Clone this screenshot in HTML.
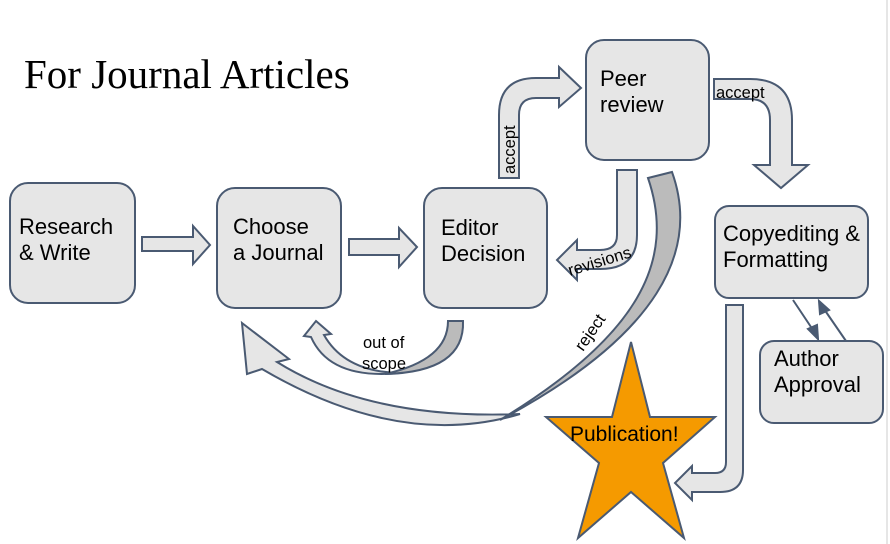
<!DOCTYPE html>
<html><head><style>html,body{margin:0;padding:0;background:#fff}svg{display:block}</style></head>
<body>
<svg width="890" height="544" viewBox="0 0 890 544" xmlns="http://www.w3.org/2000/svg" font-family="Liberation Sans, sans-serif">
<line x1="887" y1="0" x2="887" y2="544" stroke="#ccc" stroke-width="1"/>
<text x="24" y="88" font-family="Liberation Serif, serif" font-size="41" fill="#000">For Journal Articles</text>
<g fill="#e6e6e6" stroke="#4a5a72" stroke-width="2">
<rect x="10" y="183" width="125" height="120" rx="18"/>
<rect x="217" y="188" width="124" height="120" rx="18"/>
<rect x="424" y="188" width="123" height="120" rx="18"/>
<rect x="586" y="40" width="123" height="120" rx="18"/>
<rect x="715" y="206" width="153" height="92" rx="14"/>
<rect x="760" y="341" width="123" height="82" rx="14"/>
<path d="M142,237 L193,237 L193,226 L210,245 L193,264 L193,251 L142,251 Z"/>
<path d="M349,239 L399,239 L399,228 L417,247 L399,267 L399,255 L349,255 Z"/>
<path d="M499,178 L499,115 Q499,78 536,78 L559,78 L559,67 L581,88 L559,107 L559,98 L536,98 Q519,98 519,115 L519,178 Z"/>
<path d="M714,79 L750,79 Q792,79 792,120 L792,165 L808,165 L781,188 L754,165 L770,165 L770,120 Q770,99 750,99 L714,99 Z"/>
<path d="M617,170 L637,170 L637,235 Q637,269 600,269 L577,269 L577,280 L557,260 L577,240 L577,250 L600,250 Q617,250 617,235 Z"/>
<path d="M726,305 L743,305 L743,470 Q743,492 720,492 L692,492 L692,500 L675,483 L692,466 L692,473 L715,473 Q726,473 726,462 Z"/>
<path d="M242,323 L289,359 L277,362 Q370,420 520,414 Q400,450 262,369 L247,374 Z"/>
<path d="M316,321 L331,334 L324,335 Q345,372 400,373 Q330,380 311,337 L304,336 Z"/>
</g>
<g fill="#bbbbbb" stroke="#4a5a72" stroke-width="2">
<path d="M648,178 L672,172 C700,250 660,335 500,420 C640,335 676,260 648,178 Z"/>
<path d="M448,321 L463,321 Q465,372 385,374 Q448,360 448,321 Z"/>
</g>
<path d="M631,342 L650,417 L715,417 L663,463 L684,538 L631,492 L578,538 L599,463 L546,417 L612,417 Z" fill="#f59a00" stroke="#4a5a72" stroke-width="2"/>
<g stroke="#4a5a72" stroke-width="2" fill="#4a5a72">
<line x1="793" y1="300" x2="813" y2="330"/>
<path d="M818,339 L808,329 L817,325 Z"/>
<line x1="846" y1="341" x2="824" y2="309"/>
<path d="M819,301 L829,310 L820,314 Z"/>
</g>
<g font-size="22" fill="#000">
<text x="19" y="234">Research</text><text x="19" y="260">&amp; Write</text>
<text x="233" y="234">Choose</text><text x="233" y="260">a Journal</text>
<text x="441" y="235">Editor</text><text x="441" y="261">Decision</text>
<text x="600" y="86">Peer</text><text x="600" y="112">review</text>
<text x="723" y="241">Copyediting &amp;</text><text x="723" y="267">Formatting</text>
<text x="774" y="366">Author</text><text x="774" y="392">Approval</text>
<text x="570" y="441" font-size="21">Publication!</text>
</g>
<g font-size="16.5" fill="#000">
<text x="716" y="98">accept</text>
<text transform="translate(515,174) rotate(-90)">accept</text>
<text transform="translate(570,276) rotate(-17)">revisions</text>
<text transform="translate(583,352) rotate(-55)">reject</text>
<text x="363" y="348">out of</text><text x="362" y="369">scope</text>
</g>
</svg>
</body></html>
